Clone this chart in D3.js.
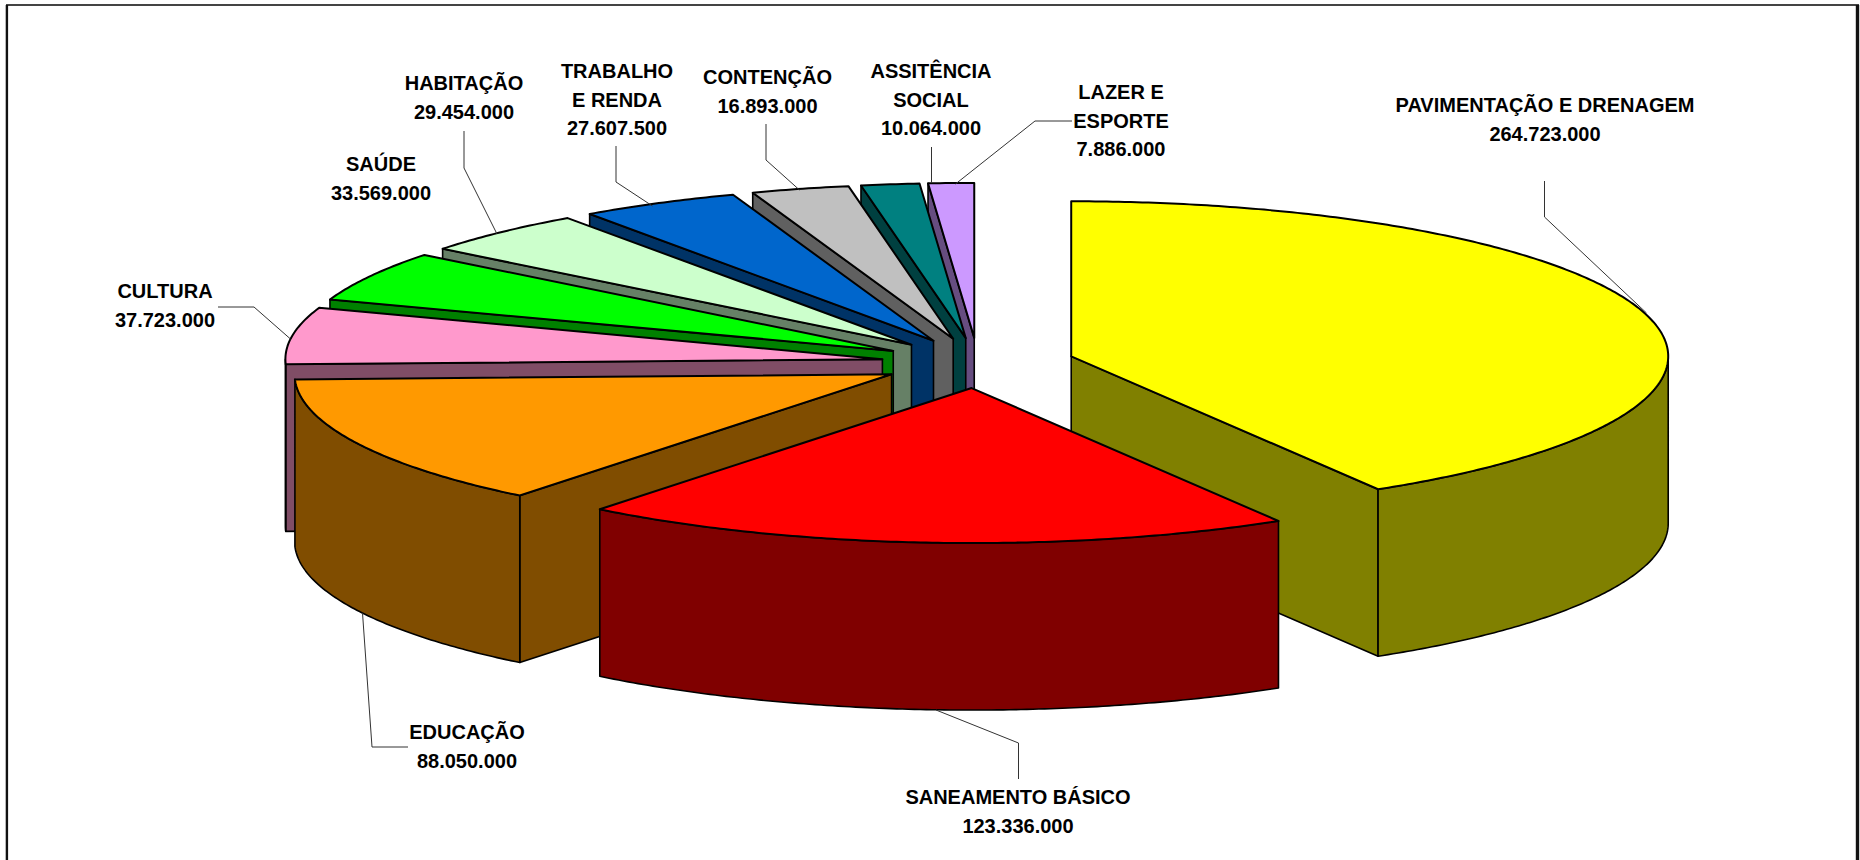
<!DOCTYPE html>
<html>
<head>
<meta charset="utf-8">
<title>Investimentos por setor</title>
<style>
html, body { margin: 0; padding: 0; background: #fff; }
svg { display: block; }
text { font-family: "Liberation Sans", Arial, sans-serif; font-weight: bold; font-size: 20px; fill: #000; text-anchor: middle; }
</style>
<script src="https://d3js.org/d3.v7.min.js"></script>
</head>
<body>
<svg width="1860" height="860"></svg>
<script type="text/javascript">
// chart values
var categories = ["PAVIMENTAÇÃO E DRENAGEM", "SANEAMENTO BÁSICO", "EDUCAÇÃO", "CULTURA", "SAÚDE", "HABITAÇÃO", "TRABALHO E RENDA", "CONTENÇÃO", "ASSITÊNCIA SOCIAL", "LAZER E ESPORTE"];
var values = [264723000, 123336000, 88050000, 37723000, 33569000, 29454000, 27607500, 16893000, 10064000, 7886000];
var colors = ["#ffff00", "#ff0000", "#ff9900", "#ff99cc", "#00ff00", "#ccffcc", "#0066cc", "#c0c0c0", "#008080", "#cc99ff"];
// how each name wraps in its label
var nameLines = [["PAVIMENTAÇÃO E DRENAGEM"], ["SANEAMENTO BÁSICO"], ["EDUCAÇÃO"], ["CULTURA"], ["SAÚDE"], ["HABITAÇÃO"], ["TRABALHO", "E RENDA"], ["CONTENÇÃO"], ["ASSITÊNCIA", "SOCIAL"], ["LAZER E", "ESPORTE"]];

// label placement, same order as categories: centre x, first line y
var labelX = [1545, 1018, 467, 165, 381, 464, 617, 767.5, 931, 1121];
var labelY = [105, 797, 732, 291, 164, 83, 71, 77, 71, 92];
// leader lines, same order again
var leaders = [
    [[1544.5, 181], [1544.5, 217], [1646.5, 313]],
    [[1018.5, 779], [1018.5, 743], [936, 710]],
    [[408, 747], [372, 747], [362.5, 613]],
    [[218, 307], [254, 307], [290.5, 339]],
    [],
    [[464, 131], [464, 168], [497, 234]],
    [[616, 146], [616, 182], [652.5, 206]],
    [[766, 124], [766, 160], [799.5, 190]],
    [[931.5, 147], [931.5, 183]],
    [[1072, 121], [1035, 121], [955.5, 184]]
];

var width = 1860, height = 860;
var pieCx = 978, pieCy = 363;      // pie centre before the slices are pulled out
var radiusX = 597, radiusY = 155;  // tilted ellipse
var depth = 167;
var explode = 0.162;

var svg = d3.select("svg");

// the pie plane is unit size, these two scales flatten it onto the screen
var x = d3.scaleLinear().domain([-1, 1]).range([pieCx - radiusX, pieCx + radiusX]);
var y = d3.scaleLinear().domain([-1, 1]).range([pieCy + radiusY, pieCy - radiusY]);

var fmt = d3.formatLocale({decimal: ",", thousands: ".", grouping: [3], currency: ["R$", ""]}).format(",d");
var line = d3.line();

function shade(c) {
    var r = d3.rgb(c);
    return d3.rgb(r.r / 2, r.g / 2, r.b / 2).formatHex();
}

var slices = d3.pie().sort(null).value(function(d) { return d; })(values).map(function(s, i) {
    var mid = (s.startAngle + s.endAngle) / 2;
    return {
        index: i,
        a0: s.startAngle,
        a1: s.endAngle,
        mid: mid,
        ox: explode * Math.sin(mid),
        oy: explode * Math.cos(mid),
        color: colors[i]
    };
});

// screen point of a slice at radius r and angle a, dropped by dz px
function pt(s, r, a, dz) {
    return [x(s.ox + r * Math.sin(a)), y(s.oy + r * Math.cos(a)) + (dz || 0)];
}

function rim(s, a0, a1, dz) {
    var n = Math.max(2, Math.ceil((a1 - a0) / 0.01));
    return d3.range(n + 1).map(function(k) {
        return pt(s, 1, a0 + (a1 - a0) * k / n, dz);
    });
}

// back slices first so the front ones cover them
var order = slices.slice().sort(function(p, q) { return Math.cos(q.mid) - Math.cos(p.mid); });

var groups = svg.append("g").selectAll("g")
    .data(order)
    .enter().append("g");

groups.each(function(s) {
    var g = d3.select(this);
    var wall = shade(s.color);
    var walls = [];

    if (Math.sin(s.a0) < -1e-6) {
        walls.push([pt(s, 0, 0), pt(s, 1, s.a0), pt(s, 1, s.a0, depth), pt(s, 0, 0, depth)]);
    }
    if (Math.sin(s.a1) > 1e-6) {
        walls.push([pt(s, 0, 0), pt(s, 1, s.a1), pt(s, 1, s.a1, depth), pt(s, 0, 0, depth)]);
    }
    var from = Math.max(s.a0, Math.PI / 2), to = Math.min(s.a1, 1.5 * Math.PI);
    if (to > from) {
        walls.push(rim(s, from, to, 0).concat(rim(s, from, to, depth).reverse()));
    }

    walls.forEach(function(w) {
        g.append("path")
            .attr("d", line(w) + "Z")
            .attr("fill", wall)
            .attr("stroke", "#000")
            .attr("stroke-width", 1.6)
            .attr("stroke-linejoin", "round");
    });

    g.append("path")
        .attr("d", line([pt(s, 0, 0)].concat(rim(s, s.a0, s.a1, 0))) + "Z")
        .attr("fill", s.color)
        .attr("stroke", "#000")
        .attr("stroke-width", 2)
        .attr("stroke-linejoin", "round");
});

// leaders
svg.append("g").selectAll("path")
    .data(leaders.filter(function(d) { return d.length; }))
    .enter().append("path")
    .attr("d", function(d) { return line(d); })
    .attr("fill", "none")
    .attr("stroke", "#333")
    .attr("stroke-width", 1);

// labels
var labels = svg.append("g").selectAll("text")
    .data(categories)
    .enter().append("text")
    .attr("x", function(d, i) { return labelX[i]; })
    .attr("y", function(d, i) { return labelY[i]; });

labels.each(function(d, i) {
    var rows = nameLines[i].concat(fmt(values[i]));
    d3.select(this).selectAll("tspan")
        .data(rows)
        .enter().append("tspan")
        .attr("x", labelX[i])
        .attr("y", function(r, k) { return labelY[i] + k * 28.3; })
        .attr("dy", "0.36em")
        .text(function(r) { return r; });
});

// frame: grey top, heavier right side like the source
svg.append("line").attr("x1", 6).attr("x2", 1859).attr("y1", 5).attr("y2", 5)
    .attr("stroke", "#444").attr("stroke-width", 2);
svg.append("line").attr("x1", 6.9).attr("x2", 6.9).attr("y1", 5).attr("y2", height)
    .attr("stroke", "#111").attr("stroke-width", 2.4);
svg.append("line").attr("x1", 1857.5).attr("x2", 1857.5).attr("y1", 5).attr("y2", height)
    .attr("stroke", "#111").attr("stroke-width", 3.4);
</script>
</body>
</html>
